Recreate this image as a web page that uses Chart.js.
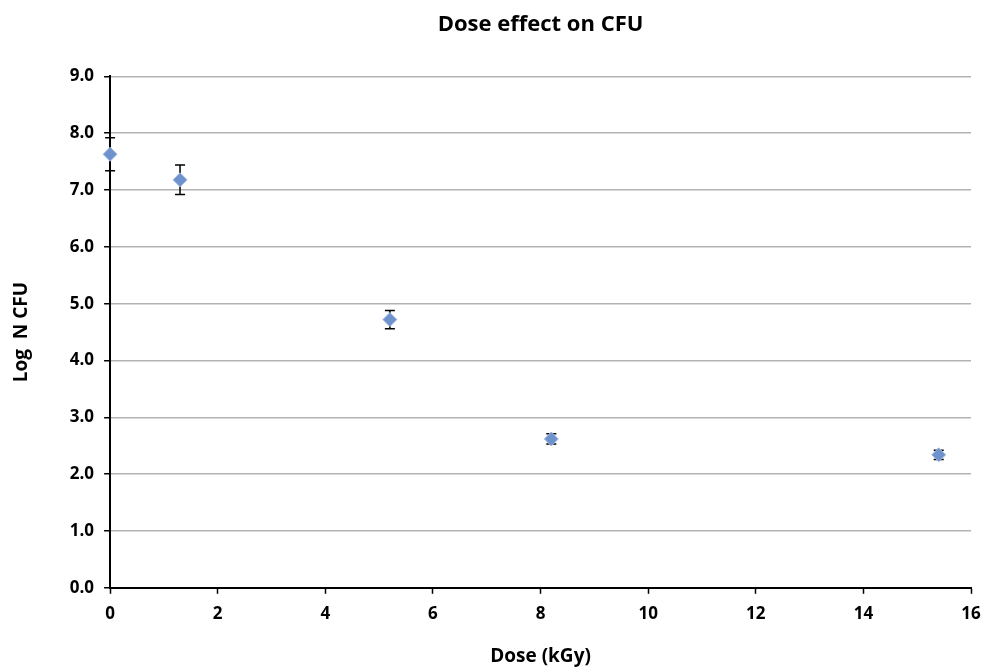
<!DOCTYPE html>
<html>
<head>
<meta charset="utf-8">
<script src="https://cdn.jsdelivr.net/npm/chart.js@4.4.0/dist/chart.umd.min.js"></script>
<style>
html,body{margin:0;padding:0;background:#fff;}
#wrap{width:983px;height:668px;}
</style>
</head>
<body>
<div id="wrap"><canvas id="c" width="983" height="668"></canvas></div>
<script>
const doses = [0, 1.3, 5.2, 8.2, 15.4];
const logCFU = [7.63, 7.18, 4.72, 2.62, 2.34];
const errors = [0.29, 0.26, 0.16, 0.09, 0.08];
const yTicks = [0, 1, 2, 3, 4, 5, 6, 7, 8, 9];
const xTicks = [0, 2, 4, 6, 8, 10, 12, 14, 16];

const FONT = "'Open Sans', 'DejaVu Sans', sans-serif";

const errorBars = {
  id: 'errorBars',
  beforeDatasetsDraw(chart) {
    const ctx = chart.ctx;
    const xs = chart.scales.x, ys = chart.scales.y;
    ctx.save();
    ctx.strokeStyle = '#000';
    ctx.lineWidth = 1.5;
    doses.forEach((d, i) => {
      const px = xs.getPixelForValue(d);
      const top = ys.getPixelForValue(logCFU[i] + errors[i]);
      const bot = ys.getPixelForValue(logCFU[i] - errors[i]);
      ctx.beginPath();
      ctx.moveTo(px, top); ctx.lineTo(px, bot);
      ctx.moveTo(px - 5, top); ctx.lineTo(px + 5, top);
      ctx.moveTo(px - 5, bot); ctx.lineTo(px + 5, bot);
      ctx.stroke();
    });
    ctx.restore();
  }
};

new Chart(document.getElementById('c'), {
  type: 'scatter',
  data: {
    datasets: [{
      data: doses.map((d, i) => ({ x: d, y: logCFU[i] })),
      pointStyle: 'rectRot',
      pointRadius: 7,
      pointHoverRadius: 7,
      backgroundColor: '#6E92CD',
      borderColor: '#A3BAE0',
      borderWidth: 1,
      clip: false
    }]
  },
  options: {
    responsive: false,
    animation: false,
    devicePixelRatio: 1,
    layout: { padding: { left: 10, right: 4, top: 8, bottom: 0 } },
    plugins: {
      legend: { display: false },
      tooltip: { enabled: false },
      title: {
        display: true,
        fullSize: false,
        text: 'Dose effect on CFU',
        color: '#000',
        font: { family: FONT, size: 22, weight: 'bold' },
        padding: { top: 4, bottom: 38 }
      }
    },
    scales: {
      x: {
        type: 'linear',
        min: 0, max: 16,
        afterBuildTicks: (s) => { s.ticks = xTicks.map(v => ({ value: v })); },
        afterFit: (s) => { s.paddingRight = 12; s.paddingLeft = 0; },
        ticks: { color: '#000', font: { family: FONT, size: 17, weight: 'bold' }, padding: 10 },
        grid: { drawOnChartArea: false, drawTicks: true, tickLength: 6, tickColor: '#000', tickWidth: 1.5 },
        border: { color: '#000', width: 2 },
        title: { display: true, text: 'Dose (kGy)', color: '#000', font: { family: FONT, size: 19, weight: 'bold' }, padding: { top: 11, bottom: 0 } }
      },
      y: {
        type: 'linear',
        min: 0, max: 9,
        afterBuildTicks: (s) => { s.ticks = yTicks.map(v => ({ value: v })); },
        ticks: { color: '#000', font: { family: FONT, size: 17, weight: 'bold' }, padding: 10, callback: v => Number(v).toFixed(1) },
        grid: { color: '#B3B3B3', lineWidth: 1.5, drawTicks: true, tickLength: 6, tickColor: '#000', tickWidth: 1.5 },
        border: { color: '#000', width: 2 },
        title: { display: true, text: 'Log  N CFU', color: '#000', font: { family: FONT, size: 19, weight: 'bold' }, padding: { top: 0, bottom: 27 } }
      }
    }
  },
  plugins: [errorBars]
});
</script>
</body>
</html>
